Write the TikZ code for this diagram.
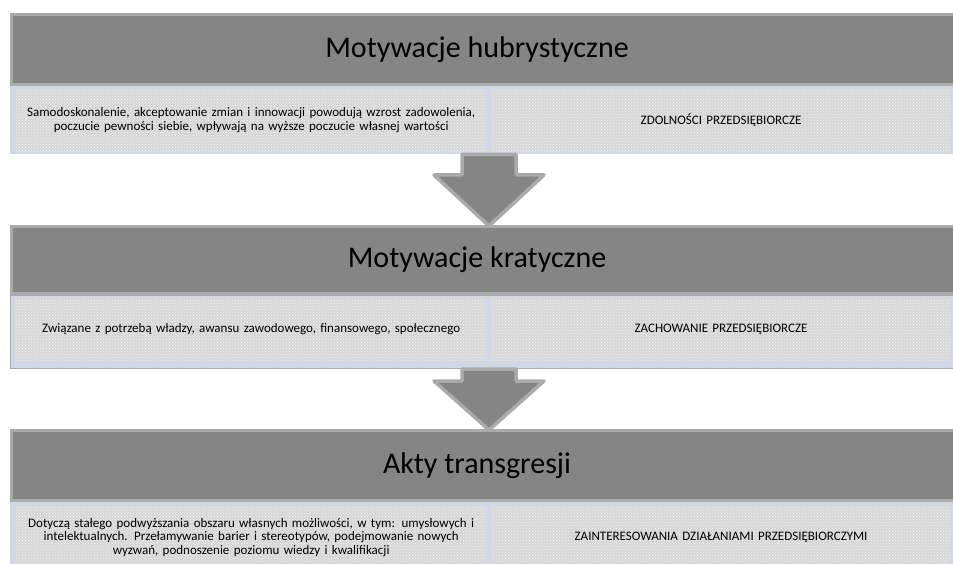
\documentclass[tikz,border=0pt]{standalone}
\usepackage{fontspec}
\setmainfont{Carlito}
\usetikzlibrary{positioning,calc,patterns}
\definecolor{hdrgray}{RGB}{133,133,133}
\definecolor{rimgray}{RGB}{170,170,170}
\definecolor{bandblue}{RGB}{208,216,232}
\definecolor{cellgray}{RGB}{214,214,214}

\begin{document}
\begin{tikzpicture}[
    x=1pt, y=1pt,
    header/.style={fill=hdrgray, draw=rimgray, line width=3pt, anchor=north west,
        minimum width=950pt, inner sep=0pt},
    title/.style={font=\fontsize{30}{34}\selectfont, inner sep=0pt},
    band/.style={fill=bandblue, anchor=north west, minimum width=950pt, inner sep=0pt},
    cell/.style={preaction={fill=cellgray}, pattern=crosshatch dots, pattern color=white!70!cellgray,
        anchor=north west, inner sep=0pt, align=center, font=\fontsize{13}{13.5}\selectfont},
    leftcell/.style={cell, minimum width=472pt, text width=468pt},
    rightcell/.style={cell, minimum width=459pt, text width=450pt},
    bigarrow/.style={fill=hdrgray, draw=rimgray, line width=3.5pt, line join=round}
]
\useasboundingbox (0,0) rectangle (953,563);
\coordinate (ax) at (489,0);

% block 1
\node[header, minimum height=70pt] (h1) at (10,550) {};
\node[title] (t1) at ([xshift=467pt]h1.west) {Motywacje hubrystyczne};
\node[band, minimum height=68pt] (b1) at (h1.south west) {};
\node[leftcell, minimum height=62pt] (l1) at ([shift={(5,-3)}]b1.north west)
    {Samodoskonalenie, akceptowanie zmian i innowacji powodują wzrost zadowolenia,\\
     poczucie pewności siebie, wpływają na wyższe poczucie własnej wartości};
\node[rightcell, minimum height=62pt, right=4pt of l1] (r1) {ZDOLNOŚCI PRZEDSIĘBIORCZE};

% block 2
\node[header, minimum height=67pt] (h2) at (10,338) {};
\node[title] (t2) at ([xshift=467pt]h2.west) {Motywacje kratyczne};
\node[band, minimum height=73pt, draw=rimgray, line width=1pt] (b2) at (h2.south west) {};
\node[leftcell, minimum height=62pt] (l2) at ([shift={(5,-3)}]b2.north west)
    {Związane z potrzebą władzy, awansu zawodowego, finansowego, społecznego};
\node[rightcell, minimum height=62pt, right=4pt of l2] (r2) {ZACHOWANIE PRZEDSIĘBIORCZE};

% block 3
\node[header, minimum height=70pt] (h3) at (10,134) {};
\node[title] (t3) at ([xshift=467pt]h3.west) {Akty transgresji};
\node[band, minimum height=80pt] (b3) at (h3.south west) {};
\node[leftcell, minimum height=64pt] (l3) at ([shift={(5,-3)}]b3.north west)
    {Dotyczą stałego podwyższania obszaru własnych możliwości, w tym: umysłowych i\\
     intelektualnych. Przełamywanie barier i stereotypów, podejmowanie nowych\\
     wyzwań, podnoszenie poziomu wiedzy i kwalifikacji};
\node[rightcell, minimum height=64pt, right=4pt of l3] (r3) {ZAINTERESOWANIA DZIAŁANIAMI PRZEDSIĘBIORCZYMI};
\fill[cellgray] (l3.south west) rectangle ++(472,-20);
\fill[cellgray] (r3.south west) rectangle ++(459,-20);

% arrows
\draw[bigarrow] ([xshift=-27pt]b1.south -| ax) |- ([xshift=-55pt,yshift=50pt]h2.north -| ax)
    -- ([yshift=-1pt]h2.north -| ax) -- ([xshift=55pt,yshift=50pt]h2.north -| ax)
    -| ([xshift=27pt]b1.south -| ax) -- cycle;
\draw[bigarrow] ([xshift=-27pt]b2.south -| ax) |- ([xshift=-55pt,yshift=48pt]h3.north -| ax)
    -- ([yshift=-1pt]h3.north -| ax) -- ([xshift=55pt,yshift=48pt]h3.north -| ax)
    -| ([xshift=27pt]b2.south -| ax) -- cycle;
\end{tikzpicture}
\end{document}
